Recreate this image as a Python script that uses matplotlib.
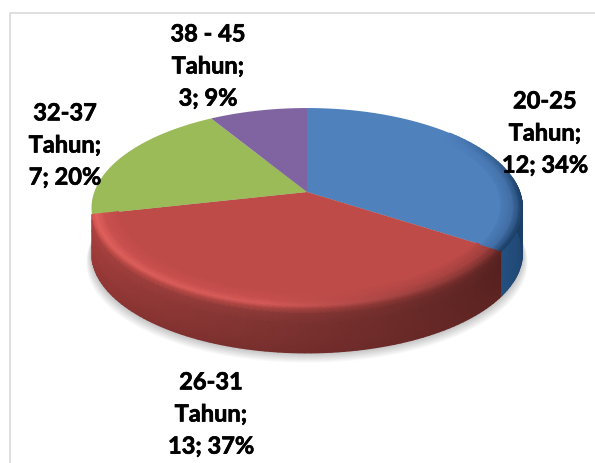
import matplotlib.pyplot as plt
import matplotlib.patheffects as pe
import numpy as np
from matplotlib.colors import to_rgb

categories = ["20-25\nTahun", "26-31\nTahun", "32-37\nTahun", "38 - 45\nTahun"]
values = [12, 13, 7, 3]
colors = ["#4F81BD", "#BE4B48", "#9BBB59", "#8064A2"]
label_xy = [(545, 133), (211, 414), (65, 145), (208, 66)]

plt.rcParams["font.family"] = ["Lato", "DejaVu Sans"]

# pie geometry in image pixels, the disc is seen in perspective
CX, CY = 307, 192
SX, SY, K = 212.7, 97.4, 0.16
DEPTH = 45


def project(theta, r=1.0):
    u = r * np.cos(theta)
    v = r * np.sin(theta)
    w = 1 + K * v
    return CX + SX * u / w, CY - SY * v / w


def surface(thetas, stops):
    """Ленты поверхности: stops = (r, h) сверху вниз."""
    xs, ys = [], []
    for r, h in stops:
        x, y = project(thetas, r)
        xs.append(x)
        ys.append(y + h)
    return np.array(xs), np.array(ys)


def blend(a, b, t):
    return np.array(a) + (np.array(b) - np.array(a)) * t


fig = plt.figure(figsize=(5.95, 4.63), dpi=100)
ax = fig.add_axes([0, 0, 1, 1])
ax.set_xlim(0, 595)
ax.set_ylim(463, 0)
ax.axis("off")

# chart frame, only left and top show up
ax.plot([9.5, 9.5, 595], [463, 12.5, 12.5], color="#D9D9D9", lw=1.2, zorder=1)

# slice angles, clockwise from the top
total = sum(values)
edges = np.pi / 2 - 2 * np.pi * np.cumsum([0] + values) / total

# soft shadow under the disc, many faint layers so no rings are seen
t_all = np.linspace(0, 2 * np.pi, 240)
for grow in np.arange(10, 0, -0.5):
    x, y = project(t_all)
    ax.fill(CX + (x - CX) * (1 + grow / 400), y + DEPTH + grow, color="black",
            alpha=0.012, lw=0, zorder=2)

# side wall, red part
t_red = np.linspace(edges[1], edges[2], 90)
pos = (t_red - t_red[0]) / (t_red[-1] - t_red[0])  # 0 right, 1 left
wall_stops = [(1, 0), (1, 6), (1, 16), (1, 32), (1, DEPTH)]
red_right = [(88, 34, 32), (86, 34, 32), (84, 33, 31), (88, 34, 32), (92, 36, 34)]
red_mid = [(185, 75, 72), (140, 58, 56), (128, 52, 50), (125, 50, 48), (118, 46, 44)]
red_left = [(205, 82, 78), (175, 68, 65), (168, 64, 62), (160, 60, 58), (150, 56, 54)]
rows = []
for a, b, c in zip(red_right, red_mid, red_left):
    rows.append([blend(a, b, p * 2) if p < 0.5 else blend(b, c, p * 2 - 1) for p in pos])
x, y = surface(t_red, wall_stops)
ax.pcolormesh(x, y, np.array(rows) / 255, shading="gouraud", zorder=3)

# side wall, blue part
t_blue = np.linspace(edges[0] - 2 * np.pi * values[0] / total, np.radians(8), 40)
x, y = surface(t_blue, wall_stops)
blue_rows = [[blend((36, 80, 128), (24, 58, 96), i / 39) for i in range(40)] for _ in wall_stops]
ax.pcolormesh(x, y, np.array(blue_rows) / 255, shading="gouraud", zorder=3)

# top faces
for start, end, color in zip(edges[:-1], edges[1:], colors):
    t = np.linspace(start, end, 120)
    x, y = project(t)
    ax.fill(np.r_[CX, x], np.r_[CY, y], color=color, lw=0, zorder=4)

# rounded rim of the red slice
bevel_stops = [(0.88, 0), (0.95, 0), (0.985, 0), (1, 0)]
face = to_rgb(colors[1])
face = tuple(c * 255 for c in face)
rim_right = [face, (150, 60, 58), (105, 42, 40), (88, 34, 32)]
rim_mid = [face, (200, 80, 78), (215, 92, 90), (185, 75, 72)]
rim_left = [face, (205, 82, 80), (228, 100, 96), (205, 82, 78)]
rows = []
for a, b, c in zip(rim_right, rim_mid, rim_left):
    rows.append([blend(a, b, p * 2) if p < 0.5 else blend(b, c, p * 2 - 1) for p in pos])
x, y = surface(t_red, bevel_stops)
ax.pcolormesh(x, y, np.array(rows) / 255, shading="gouraud", zorder=5)

# rim of the blue slice, fades out towards the back
t_rim = np.linspace(t_red[0], np.radians(42), 60)
fade = np.clip((np.radians(42) - t_rim) / np.radians(42), 0, 1)
blue_face = np.array(to_rgb(colors[0])) * 255
rim_dark = [blue_face, (62, 105, 158), (38, 78, 122), (28, 62, 102)]
rows = [[blend(blue_face, c, f) for f in fade] for c in rim_dark]
x, y = surface(t_rim, [(0.9, 0), (0.96, 0), (0.985, 0), (1, 0)])
ax.pcolormesh(x, y, np.array(rows) / 255, shading="gouraud", zorder=5)

# data labels
for cat, val, (lx, ly) in zip(categories, values, label_xy):
    pct = round(100 * val / total)
    ax.text(lx, ly, f"{cat};\n{val}; {pct}%", ha="center", va="center", fontsize=17,
            fontweight="bold", color="black", linespacing=1.48, zorder=6,
            path_effects=[pe.withStroke(linewidth=0.5, foreground="black")])

fig.savefig("out.png", dpi=100)
plt.close(fig)
